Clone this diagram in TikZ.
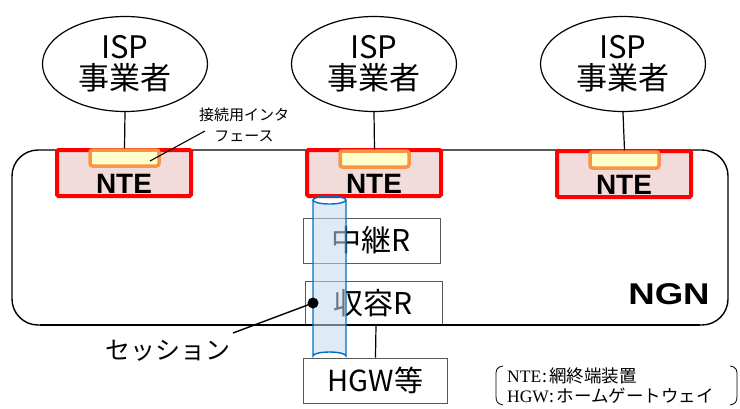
\documentclass[tikz,border=0pt]{standalone}
\usepackage{fontspec}
\newfontfamily\jp{Noto Sans CJK JP}
\newfontfamily\lsb{Liberation Sans}
\newfontfamily\lserif{Liberation Serif}
\usetikzlibrary{shapes.geometric}
\definecolor{ntered}{HTML}{FF0000}
\definecolor{ntefill}{HTML}{F2DCDB}
\definecolor{iforange}{HTML}{F79646}
\definecolor{ifyellow}{HTML}{FFFFCC}
\definecolor{cylblue}{HTML}{0070C0}
\definecolor{cylfill}{HTML}{C5D9F1}
\definecolor{boxgray}{HTML}{595959}
\begin{document}
\begin{tikzpicture}[x=1pt,y=-1pt,
  isp/.style={draw,line width=1.2pt,ellipse,minimum width=165,minimum height=95,inner sep=0,align=center,font=\jp\fontsize{31}{36}\selectfont},
  ntebox/.style={draw=ntered,line width=4pt,fill=ntefill,minimum width=134,minimum height=46,inner sep=0,rounded corners=1.5pt},
  ifbox/.style={draw=iforange,line width=3.5pt,fill=ifyellow,minimum width=69,minimum height=16,inner sep=0,rounded corners=2.5pt},
  ntetext/.style={font=\lsb\bfseries\fontsize{28}{28}\selectfont,inner sep=0},
  rbox/.style={draw=boxgray,line width=0.9pt,fill=white,minimum width=137,minimum height=45,inner sep=0,font=\jp\fontsize{30}{30}\selectfont},
  legtext/.style={anchor=west,inner sep=0,font=\fontsize{17.5}{17.5}\selectfont},
  link/.style={line width=1.2pt}]
\useasboundingbox (0,0) rectangle (740,408);
% NGN
\draw[line width=1.4pt,rounded corners=26pt] (12,150) rectangle (728,325);
\node[font=\lsb\bfseries\fontsize{30}{30}\selectfont,inner sep=0] (ngn) at (669,294) {\scalebox{1.22}[1]{NGN}};
% ISPs
\node[isp] (isp1) at (125,64) {ISP\\[-5pt]事業者};
\node[isp] (isp2) at (374,64) {ISP\\[-5pt]事業者};
\node[isp] (isp3) at (623,64) {ISP\\[-5pt]事業者};
% NTE boxes
\node[ntebox] (nte1) at (124,173) {};
\node[ntebox] (nte2) at (374,173) {};
\node[ntebox] (nte3) at (624,174) {};
\node[ntetext] (nt1) at (124,184) {NTE};
\node[ntetext] (nt2) at (374,184) {NTE};
\node[ntetext] (nt3) at (624,185) {NTE};
\node[ifbox] (if1) at (124.5,158) {};
\node[ifbox] (if2) at (374.5,159) {};
\node[ifbox] (if3) at (624.5,160) {};
\draw[link] (isp1.south) -- (if1.north);
\draw[link] (isp2.south) -- (if2.north);
\draw[link] (isp3.south) -- (if3.north);
% interface label
\node[font=\jp\fontsize{15}{21}\selectfont,align=center,inner sep=0] (iflabel) at (244,125) {接続用インタ\\フェース};
\coordinate (ifpt) at (150,161);
\draw[line width=1.1pt] (205,131) -- (ifpt);
% routers
\node[rbox] (chukei) at (371.5,240.5) {中継R};
\node[rbox,minimum height=44] (shuyo) at (373.5,303.5) {収容R};
\node[rbox,minimum width=144,font=\jp\fontsize{29}{29}\selectfont] (hgw) at (375.5,380.5) {HGW等};
\draw[line width=1.4pt] (40,325) -- (700,325);
\draw[link] (376,325) -- (hgw.north);
% cylinder
\fill[cylfill,opacity=0.55] (313,200) -- (313,356) arc[start angle=180,end angle=360,x radius=16.5,y radius=4] -- (346,200) arc[start angle=0,end angle=180,x radius=16.5,y radius=4];
\draw[cylblue,line width=1.4pt] (313,200) -- (313,356) arc[start angle=180,end angle=360,x radius=16.5,y radius=4] -- (346,200);
\draw[cylblue,line width=1.4pt] (329.5,200) ellipse[x radius=16.5,y radius=4];
% session
\node[circle,fill=black,minimum size=11,inner sep=0] (dot) at (313,303) {};
\node[font=\jp\fontsize{25}{25}\selectfont,inner sep=0] (sess) at (168,351) {セッション};
\coordinate (sessend) at (233,333);
\draw[line width=1.4pt] (dot.center) -- (sessend);
% legend
\node[legtext] (leg1) at (507,376) {{\lserif NTE}{\jp\kern1pt:\kern2pt 網終端装置}};
\node[legtext] (leg2) at (507,396) {{\lserif HGW}{\jp\kern1pt:\kern2pt ホームゲートウェイ}};
\draw[line width=0.8pt] (503,366) .. controls (496,367) and (496,371) .. (496,375) -- (496,396) .. controls (496,401) and (497,404) .. (503,405);
\draw[line width=0.8pt] (730,366) .. controls (737,367) and (737,371) .. (737,375) -- (737,396) .. controls (737,401) and (736,404) .. (730,405);
\end{tikzpicture}
\end{document}
